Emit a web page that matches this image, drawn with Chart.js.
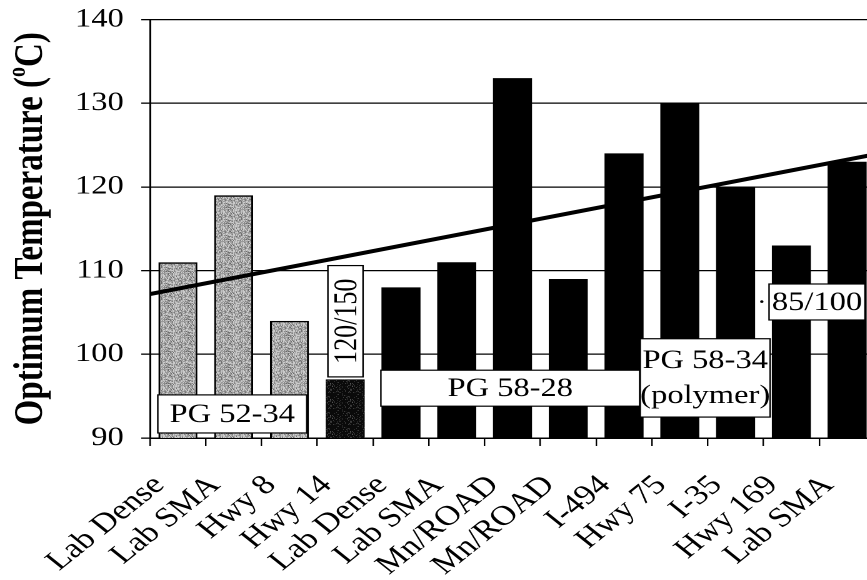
<!DOCTYPE html>
<html>
<head>
<meta charset="utf-8">
<script src="https://cdn.jsdelivr.net/npm/chart.js@4.4.1/dist/chart.umd.min.js"></script>
<style>
  html, body { margin: 0; padding: 0; background: #fff; overflow: hidden; width: 867px; height: 580px; }
  /* the figure is drawn narrow and widened horizontally */
  #wrap { position: absolute; left: 0; top: 0; width: 704px; height: 580px; transform: scaleX(1.25); transform-origin: 0 0; }
</style>
</head>
<body>
<div id="wrap"><canvas id="c" width="704" height="580"></canvas></div>
<script>
// Mixture / section names along the x axis
const categories = ['Lab Dense', 'Lab SMA', 'Hwy 8', 'Hwy 14', 'Lab Dense', 'Lab SMA',
                    'Mn/ROAD', 'Mn/ROAD', 'I-494', 'Hwy 75', 'I-35', 'Hwy 169', 'Lab SMA'];
// Optimum temperature (°C) for each mixture
const optimumTemp = [111, 119, 104, 97, 108, 111, 133, 109, 124, 130, 120, 113, 123];
// Fill type of each bar
const barShade = ['light', 'light', 'light', 'dark', 'solid', 'solid', 'solid',
                  'solid', 'solid', 'solid', 'solid', 'solid', 'solid'];
// Linear trend across all mixtures: values at the left and right ends of the axis
const trendX = [-0.5, 12.5];
const trendY = [107.2, 123.9];
// Temperature axis ticks
const yTicks = [90, 100, 110, 120, 130, 140];

const SERIF = "'Liberation Serif', 'Times New Roman', serif";
const canvas = document.getElementById('c');
const ctx = canvas.getContext('2d');

// Grainy fill for the shaded bars (fixed, hashed dot layout)
function stipple(base, dot, threshold) {
  const s = 32;
  const t = document.createElement('canvas');
  t.width = s; t.height = s;
  const g = t.getContext('2d');
  g.fillStyle = base; g.fillRect(0, 0, s, s);
  g.fillStyle = dot;
  for (let y = 0; y < s; y++) {
    for (let x = 0; x < s; x++) {
      let h = Math.imul(x, 374761393) + Math.imul(y, 668265263);
      h = Math.imul(h ^ (h >>> 13), 1274126177);
      h = (h ^ (h >>> 16)) & 255;
      if (h < threshold) g.fillRect(x, y, 1, 1);
    }
  }
  const p = ctx.createPattern(t, 'repeat');
  p.setTransform(new DOMMatrix().scale(0.5));
  return p;
}
const fills = {
  light: stipple('#cbcbcb', '#6a6a6a', 100),
  dark: stipple('#0a0a0a', '#6a6a6a', 22),
  solid: '#000'
};

// Labelled boxes naming the binder grades (category index / temperature units)
const noteBoxes = [
  { lines: ['PG 52-34'], x0: -0.36, x1: 2.31, y0: 90.6, y1: 95.15 },
  { lines: ['120/150'], x0: 2.69, x1: 3.32, y0: 97.3, y1: 110.6, vertical: true },
  { lines: ['PG 58-28'], x0: 3.64, x1: 8.28, y0: 93.8, y1: 98.1 },
  { lines: ['PG 58-34', '(polymer)'], x0: 8.29, x1: 10.62, y0: 92.5, y1: 101.86 },
  { lines: ['85/100'], x0: 10.6, x1: 12.32, y0: 104.1, y1: 108.4 }
];

const notesPlugin = {
  id: 'notes',
  afterDatasetsDraw(chart) {
    const xs = chart.scales.xTrend, ys = chart.scales.y;
    const c = chart.ctx;
    c.save();
    c.font = '26px ' + SERIF;
    c.fillStyle = '#000';
    c.textAlign = 'center';
    c.textBaseline = 'middle';
    for (const b of noteBoxes) {
      const l = xs.getPixelForValue(b.x0), r = xs.getPixelForValue(b.x1);
      const t = ys.getPixelForValue(b.y1), bt = ys.getPixelForValue(b.y0);
      c.fillStyle = '#fff';
      c.fillRect(l, t, r - l, bt - t);
      c.strokeStyle = '#000';
      c.lineWidth = 1.2;
      c.strokeRect(l, t, r - l, bt - t);
      c.fillStyle = '#000';
      const cx = (l + r) / 2, cy = (t + bt) / 2;
      if (b.vertical) {
        c.save();
        c.translate(cx + 1, cy);
        c.rotate(-Math.PI / 2);
        c.fillText(b.lines[0], 0, 1);
        c.restore();
      } else {
        const lh = 35;
        b.lines.forEach((s, k) => {
          c.fillText(s, cx, cy + (k - (b.lines.length - 1) / 2) * lh + 1);
        });
      }
    }
    // small stray mark beside the 85/100 box
    c.beginPath();
    c.arc(xs.getPixelForValue(10.47), ys.getPixelForValue(106.3), 1.3, 0, Math.PI * 2);
    c.fill();
    c.restore();
  },
  afterDraw(chart) {
    // rotated axis title with a superscript degree "o"
    const c = chart.ctx;
    const a = chart.chartArea;
    const main = 'bold 33px ' + SERIF, sup = 'bold 20px ' + SERIF;
    const p1 = 'Optimum Temperature (', p2 = 'o', p3 = 'C)';
    c.save();
    c.fillStyle = '#000';
    c.textBaseline = 'middle';
    c.textAlign = 'left';
    c.font = main;
    const w1 = c.measureText(p1).width, w3 = c.measureText(p3).width;
    c.font = sup;
    const w2 = c.measureText(p2).width;
    const total = w1 + w2 + w3;
    c.translate(24, (a.top + a.bottom) / 2);
    c.rotate(-Math.PI / 2);
    let x = -total / 2;
    c.font = main; c.fillText(p1, x, 1); x += w1;
    c.font = sup; c.fillText(p2, x, -9); x += w2;
    c.font = main; c.fillText(p3, x, 1);
    c.restore();
  }
};

new Chart(ctx, {
  data: {
    labels: categories,
    datasets: [
      {
        type: 'bar',
        data: optimumTemp,
        xAxisID: 'x',
        backgroundColor: barShade.map(s => fills[s]),
        borderColor: '#000',
        borderWidth: barShade.map(s => s === 'light' ? 1.6 : 0),
        borderSkipped: 'bottom',
        barPercentage: 0.7,
        categoryPercentage: 1.0,
        grouped: false,
        order: 2
      },
      {
        type: 'line',
        data: trendX.map((x, i) => ({ x, y: trendY[i] })),
        xAxisID: 'xTrend',
        borderColor: '#000',
        borderWidth: 4,
        pointRadius: 0,
        fill: false,
        order: 1
      }
    ]
  },
  options: {
    responsive: false,
    devicePixelRatio: 2,
    animation: false,
    layout: { padding: { top: 19.5, right: 4, left: 0, bottom: 0 } },
    plugins: { legend: { display: false }, tooltip: { enabled: false } },
    scales: {
      x: {
        type: 'category',
        offset: true,
        grid: { display: true, drawOnChartArea: false, drawTicks: true, tickLength: 8, color: '#000', lineWidth: 1.2, offset: true },
        border: { display: true, color: '#000', width: 1.5 },
        ticks: {
          color: '#000',
          font: { family: SERIF, size: 28 },
          minRotation: 45, maxRotation: 45,
          autoSkip: false,
          padding: 23,
          labelOffset: -15
        },
        afterFit(s) { s.height = 142; s.paddingLeft = 0; s.paddingRight = 0; }
      },
      xTrend: {
        type: 'linear',
        display: false,
        min: trendX[0],
        max: trendX[1]
      },
      y: {
        min: yTicks[0],
        max: yTicks[yTicks.length - 1],
        ticks: { stepSize: 10, color: '#000', font: { family: SERIF, size: 26 }, padding: 14 },
        afterBuildTicks(s) { s.ticks = yTicks.map(v => ({ value: v })); },
        grid: { color: '#000', lineWidth: 1.3, tickLength: 7 },
        border: { display: true, color: '#000', width: 1.5 },
        afterFit(s) { s.width = 120; s.paddingTop = 0; s.paddingBottom = 0; }
      }
    }
  },
  plugins: [notesPlugin]
});
</script>
</body>
</html>
